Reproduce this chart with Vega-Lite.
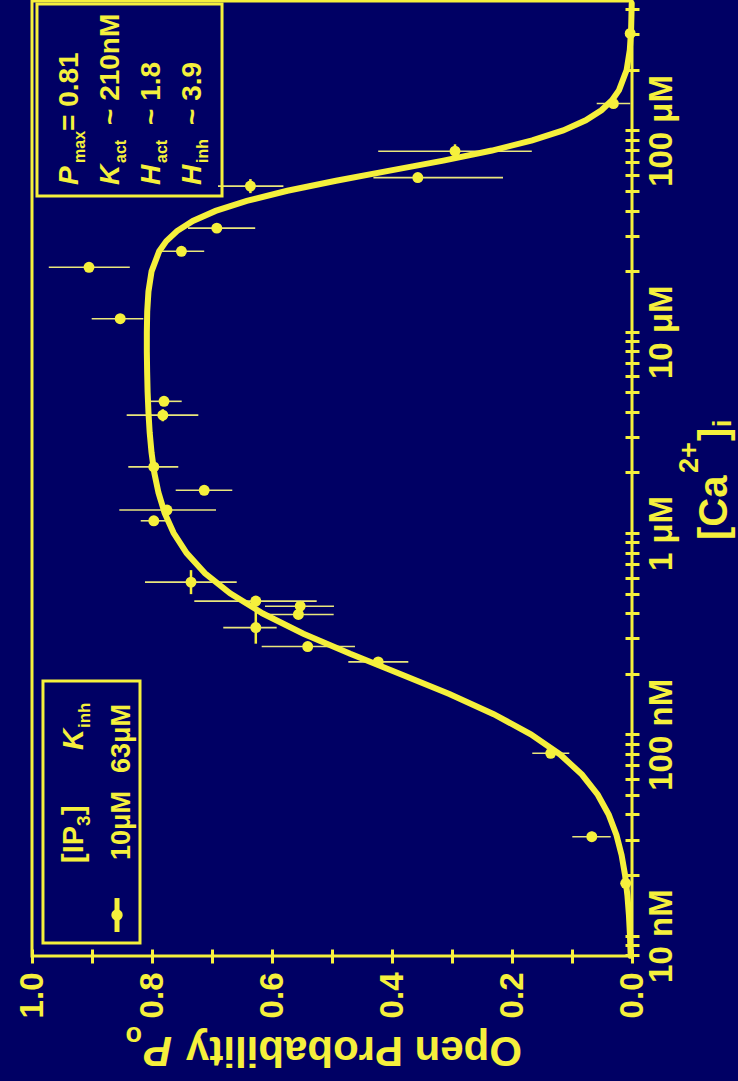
{
  "$schema": "https://vega.github.io/schema/vega-lite/v6.json",
  "width": 600,
  "height": 955,
  "autosize": {"type": "none"},
  "padding": {"left": 32, "top": 1, "right": 106, "bottom": 125},
  "background": "#000064",
  "config": {
    "view": {"stroke": "#f5f03c", "strokeWidth": 3},
    "text": {"font": "Liberation Sans", "fontWeight": "bold", "color": "#f5f03c"}
  },
  "datasets": {
    "points": [
      {"conc": 78.8, "po": 0.295, "poLo": 0.167, "poHi": 0.423, "cLo": 72.8, "cHi": 85.3},
      {"conc": 58.3, "po": 0.357, "poLo": 0.215, "poHi": 0.431},
      {"conc": 52.9, "po": 0.636, "poLo": 0.581, "poHi": 0.690, "cLo": 48.8, "cHi": 57.3},
      {"conc": 32.7, "po": 0.692, "poLo": 0.628, "poHi": 0.740},
      {"conc": 25.1, "po": 0.751, "poLo": 0.713, "poHi": 0.784},
      {"conc": 20.9, "po": 0.905, "poLo": 0.837, "poHi": 0.972},
      {"conc": 11.6, "po": 0.853, "poLo": 0.8145, "poHi": 0.9005},
      {"conc": 4.51, "po": 0.780, "poLo": 0.7505, "poHi": 0.8033},
      {"conc": 3.85, "po": 0.782, "poLo": 0.7228, "poHi": 0.8422, "cLo": 3.59, "cHi": 4.12},
      {"conc": 2.13, "po": 0.797, "poLo": 0.7562, "poHi": 0.8395},
      {"conc": 1.63, "po": 0.713, "poLo": 0.6662, "poHi": 0.7605},
      {"conc": 1.30, "po": 0.775, "poLo": 0.6933, "poHi": 0.8545},
      {"conc": 1.15, "po": 0.797, "poLo": 0.775, "poHi": 0.8188},
      {"conc": 0.570, "po": 0.735, "poLo": 0.6588, "poHi": 0.8117, "cLo": 0.497, "cHi": 0.654},
      {"conc": 0.459, "po": 0.627, "poLo": 0.5255, "poHi": 0.7295},
      {"conc": 0.433, "po": 0.553, "poLo": 0.4967, "poHi": 0.6117},
      {"conc": 0.394, "po": 0.556, "poLo": 0.4972, "poHi": 0.6195},
      {"conc": 0.339, "po": 0.627, "poLo": 0.5922, "poHi": 0.6812, "cLo": 0.282, "cHi": 0.408},
      {"conc": 0.273, "po": 0.5405, "poLo": 0.4617, "poHi": 0.6172},
      {"conc": 0.229, "po": 0.423, "poLo": 0.3728, "poHi": 0.4728},
      {"conc": 0.0805, "po": 0.1355, "poLo": 0.1045, "poHi": 0.1662},
      {"conc": 0.031, "po": 0.067, "poLo": 0.0355, "poHi": 0.0995, "cLo": 0.0293, "cHi": 0.0328},
      {"conc": 0.0182, "po": 0.0105, "poLo": 0.004, "poHi": 0.017},
      {"conc": 303, "po": 0.003, "poLo": 0.0, "poHi": 0.006, "cLo": 280, "cHi": 328},
      {"conc": 136, "po": 0.031, "poLo": 0.003, "poHi": 0.0588}
    ],
    "curve": [
      {"conc": 0.00794, "po": 0.00222}, {"conc": 0.01, "po": 0.00336}, {"conc": 0.01259, "po": 0.00508},
      {"conc": 0.01585, "po": 0.00766}, {"conc": 0.01995, "po": 0.01153}, {"conc": 0.02512, "po": 0.01733},
      {"conc": 0.03162, "po": 0.02594}, {"conc": 0.03981, "po": 0.03863}, {"conc": 0.05012, "po": 0.05708},
      {"conc": 0.0631, "po": 0.08338}, {"conc": 0.07943, "po": 0.11984}, {"conc": 0.1, "po": 0.16857},
      {"conc": 0.1259, "po": 0.23051}, {"conc": 0.1585, "po": 0.3044}, {"conc": 0.1995, "po": 0.3862},
      {"conc": 0.2512, "po": 0.4696}, {"conc": 0.3162, "po": 0.5477}, {"conc": 0.3981, "po": 0.6153},
      {"conc": 0.5012, "po": 0.6699}, {"conc": 0.631, "po": 0.7117}, {"conc": 0.7943, "po": 0.7423},
      {"conc": 1, "po": 0.7639}, {"conc": 1.259, "po": 0.779}, {"conc": 1.585, "po": 0.7892},
      {"conc": 1.995, "po": 0.7962}, {"conc": 2.512, "po": 0.8008}, {"conc": 3.162, "po": 0.8039},
      {"conc": 3.981, "po": 0.8059}, {"conc": 5.012, "po": 0.8073}, {"conc": 6.31, "po": 0.8081},
      {"conc": 7.943, "po": 0.8086}, {"conc": 10, "po": 0.8086}, {"conc": 12.59, "po": 0.808},
      {"conc": 15.85, "po": 0.8059}, {"conc": 19.95, "po": 0.8007}, {"conc": 25.12, "po": 0.788},
      {"conc": 28.18, "po": 0.7762}, {"conc": 31.62, "po": 0.7583}, {"conc": 35.48, "po": 0.7319},
      {"conc": 39.81, "po": 0.694}, {"conc": 44.67, "po": 0.642}, {"conc": 50.12, "po": 0.5744},
      {"conc": 56.23, "po": 0.4932}, {"conc": 63.1, "po": 0.4037}, {"conc": 70.79, "po": 0.3144},
      {"conc": 79.43, "po": 0.2334}, {"conc": 89.13, "po": 0.1663}, {"conc": 100, "po": 0.1147},
      {"conc": 112.2, "po": 0.0771}, {"conc": 125.9, "po": 0.051}, {"conc": 141.3, "po": 0.0333},
      {"conc": 158.5, "po": 0.0216}, {"conc": 199.5, "po": 0.00893}, {"conc": 251.2, "po": 0.00366},
      {"conc": 316.2, "po": 0.0015}, {"conc": 426.6, "po": 0.00047}
    ]
  },
  "layer": [
    {
      "data": {"name": "points"},
      "mark": {"type": "rule", "color": "#e9e67c", "strokeWidth": 1.6},
      "encoding": {
        "x": {
          "field": "poLo", "type": "quantitative",
          "scale": {"domain": [0, 1], "reverse": true, "nice": false, "zero": false},
          "axis": {
            "orient": "bottom", "title": null,
            "values": [0, 0.1, 0.2, 0.3, 0.4, 0.5, 0.6, 0.7, 0.8, 0.9, 1],
            "labelExpr": "round(datum.value*10)%2==0 ? format(datum.value,'.1f') : ''",
            "offset": -7, "tickSize": 14, "tickWidth": 3, "tickColor": "#f5f03c",
            "domain": false, "grid": false,
            "labelAngle": 270, "labelAlign": "right", "labelBaseline": "middle", "labelPadding": 9,
            "labelFont": "Liberation Sans", "labelFontSize": 33, "labelFontWeight": "bold", "labelColor": "#f5f03c",
            "labelFlush": false, "labelOverlap": false, "labelBound": false
          }
        },
        "x2": {"field": "poHi"},
        "y": {
          "field": "conc", "type": "quantitative",
          "scale": {"type": "log", "domain": [0.00792, 439.4], "nice": false},
          "axis": {
            "orient": "right", "title": null,
            "values": [0.008, 0.009, 0.01, 0.02, 0.03, 0.04, 0.05, 0.06, 0.07, 0.08, 0.09, 0.1, 0.2, 0.3, 0.4, 0.5, 0.6, 0.7, 0.8, 0.9, 1, 2, 3, 4, 5, 6, 7, 8, 9, 10, 20, 30, 40, 50, 60, 70, 80, 90, 100, 200, 300, 400],
            "labelExpr": "datum.value==0.01 ? '10 nM' : datum.value==0.1 ? '100 nM' : datum.value==1 ? '1 μM' : datum.value==10 ? '10 μM' : datum.value==100 ? '100 μM' : ''",
            "offset": -7, "tickSize": 14, "tickWidth": 3, "tickColor": "#f5f03c",
            "domain": false, "grid": false,
            "labelAngle": 270, "labelAlign": "center", "labelBaseline": "top", "labelPadding": 6,
            "labelFont": "Liberation Sans", "labelFontSize": 33, "labelFontWeight": "bold", "labelColor": "#f5f03c",
            "labelFlush": false, "labelOverlap": false, "labelBound": false
          }
        }
      }
    },
    {
      "data": {"name": "points"},
      "transform": [{"filter": "isValid(datum.cLo)"}],
      "mark": {"type": "rule", "color": "#f5f03c", "strokeWidth": 2.5},
      "encoding": {
        "x": {"field": "po", "type": "quantitative"},
        "y": {"field": "cLo", "type": "quantitative"},
        "y2": {"field": "cHi"}
      }
    },
    {
      "data": {"name": "curve"},
      "mark": {"type": "line", "color": "#f5f03c", "strokeWidth": 6, "strokeCap": "round"},
      "encoding": {
        "x": {"field": "po", "type": "quantitative"},
        "y": {"field": "conc", "type": "quantitative"},
        "order": {"field": "conc", "type": "quantitative"}
      }
    },
    {
      "data": {"name": "points"},
      "mark": {"type": "point", "shape": "circle", "filled": true, "opacity": 1, "color": "#f5f03c", "size": 120},
      "encoding": {
        "x": {"field": "po", "type": "quantitative"},
        "y": {"field": "conc", "type": "quantitative"}
      }
    },
    {
      "data": {"values": [{}]},
      "mark": {"type": "rect", "fill": "transparent", "stroke": "#f5f03c", "strokeWidth": 3},
      "encoding": {
        "x": {"datum": 0.9917, "type": "quantitative"}, "x2": {"datum": 0.6833},
        "y": {"datum": 424.6, "type": "quantitative"}, "y2": {"datum": 47.22}
      }
    },
    {
      "data": {"values": [{}]},
      "mark": {"type": "rect", "fill": "transparent", "stroke": "#f5f03c", "strokeWidth": 3},
      "encoding": {
        "x": {"datum": 0.9817, "type": "quantitative"}, "x2": {"datum": 0.82},
        "y": {"datum": 0.18397, "type": "quantitative"}, "y2": {"datum": 0.00919}
      }
    },
    {
      "data": {"values": [{}]},
      "mark": {"type": "rule", "color": "#f5f03c", "strokeWidth": 5},
      "encoding": {
        "x": {"datum": 0.8583, "type": "quantitative"},
        "y": {"datum": 0.01537, "type": "quantitative"}, "y2": {"datum": 0.01042}
      }
    },
    {
      "data": {"values": [{}]},
      "mark": {"type": "point", "shape": "circle", "filled": true, "opacity": 1, "color": "#f5f03c", "size": 130},
      "encoding": {
        "x": {"datum": 0.8583, "type": "quantitative"},
        "y": {"datum": 0.01266, "type": "quantitative"}
      }
    },
    {"data": {"values": [{}]}, "mark": {"type": "text", "text": "P", "fontStyle": "italic", "fontSize": 28, "angle": 270, "align": "left", "baseline": "alphabetic"},
     "encoding": {"x": {"datum": 0.9233, "type": "quantitative"}, "y": {"datum": 53.56, "type": "quantitative"}}},
    {"data": {"values": [{}]}, "mark": {"type": "text", "text": "max", "fontSize": 16, "angle": 270, "align": "left", "baseline": "alphabetic", "dx": 22, "dy": 7},
     "encoding": {"x": {"datum": 0.9233, "type": "quantitative"}, "y": {"datum": 53.56, "type": "quantitative"}}},
    {"data": {"values": [{}]}, "mark": {"type": "text", "text": "= 0.81", "fontSize": 28, "angle": 270, "align": "left", "baseline": "alphabetic", "dx": 54},
     "encoding": {"x": {"datum": 0.9233, "type": "quantitative"}, "y": {"datum": 53.56, "type": "quantitative"}}},
    {"data": {"values": [{}]}, "mark": {"type": "text", "text": "K", "fontStyle": "italic", "fontSize": 28, "angle": 270, "align": "left", "baseline": "alphabetic"},
     "encoding": {"x": {"datum": 0.855, "type": "quantitative"}, "y": {"datum": 53.56, "type": "quantitative"}}},
    {"data": {"values": [{}]}, "mark": {"type": "text", "text": "act", "fontSize": 16, "angle": 270, "align": "left", "baseline": "alphabetic", "dx": 22, "dy": 7},
     "encoding": {"x": {"datum": 0.855, "type": "quantitative"}, "y": {"datum": 53.56, "type": "quantitative"}}},
    {"data": {"values": [{}]}, "mark": {"type": "text", "text": "~ 210nM", "fontSize": 28, "angle": 270, "align": "left", "baseline": "alphabetic", "dx": 60},
     "encoding": {"x": {"datum": 0.855, "type": "quantitative"}, "y": {"datum": 53.56, "type": "quantitative"}}},
    {"data": {"values": [{}]}, "mark": {"type": "text", "text": "H", "fontStyle": "italic", "fontSize": 28, "angle": 270, "align": "left", "baseline": "alphabetic"},
     "encoding": {"x": {"datum": 0.7867, "type": "quantitative"}, "y": {"datum": 53.56, "type": "quantitative"}}},
    {"data": {"values": [{}]}, "mark": {"type": "text", "text": "act", "fontSize": 16, "angle": 270, "align": "left", "baseline": "alphabetic", "dx": 22, "dy": 7},
     "encoding": {"x": {"datum": 0.7867, "type": "quantitative"}, "y": {"datum": 53.56, "type": "quantitative"}}},
    {"data": {"values": [{}]}, "mark": {"type": "text", "text": "~ 1.8", "fontSize": 28, "angle": 270, "align": "left", "baseline": "alphabetic", "dx": 60},
     "encoding": {"x": {"datum": 0.7867, "type": "quantitative"}, "y": {"datum": 53.56, "type": "quantitative"}}},
    {"data": {"values": [{}]}, "mark": {"type": "text", "text": "H", "fontStyle": "italic", "fontSize": 28, "angle": 270, "align": "left", "baseline": "alphabetic"},
     "encoding": {"x": {"datum": 0.7183, "type": "quantitative"}, "y": {"datum": 53.56, "type": "quantitative"}}},
    {"data": {"values": [{}]}, "mark": {"type": "text", "text": "inh", "fontSize": 16, "angle": 270, "align": "left", "baseline": "alphabetic", "dx": 22, "dy": 7},
     "encoding": {"x": {"datum": 0.7183, "type": "quantitative"}, "y": {"datum": 53.56, "type": "quantitative"}}},
    {"data": {"values": [{}]}, "mark": {"type": "text", "text": "~ 3.9", "fontSize": 28, "angle": 270, "align": "left", "baseline": "alphabetic", "dx": 60},
     "encoding": {"x": {"datum": 0.7183, "type": "quantitative"}, "y": {"datum": 53.56, "type": "quantitative"}}},
    {"data": {"values": [{}]}, "mark": {"type": "text", "text": "[IP", "fontSize": 29, "angle": 270, "align": "left", "baseline": "alphabetic"},
     "encoding": {"x": {"datum": 0.915, "type": "quantitative"}, "y": {"datum": 0.02294, "type": "quantitative"}}},
    {"data": {"values": [{}]}, "mark": {"type": "text", "text": "3", "fontSize": 19, "angle": 270, "align": "left", "baseline": "alphabetic", "dx": 37, "dy": 7},
     "encoding": {"x": {"datum": 0.915, "type": "quantitative"}, "y": {"datum": 0.02294, "type": "quantitative"}}},
    {"data": {"values": [{}]}, "mark": {"type": "text", "text": "]", "fontSize": 29, "angle": 270, "align": "left", "baseline": "alphabetic", "dx": 48},
     "encoding": {"x": {"datum": 0.915, "type": "quantitative"}, "y": {"datum": 0.02294, "type": "quantitative"}}},
    {"data": {"values": [{}]}, "mark": {"type": "text", "text": "K", "fontStyle": "italic", "fontSize": 29, "angle": 270, "align": "left", "baseline": "alphabetic"},
     "encoding": {"x": {"datum": 0.915, "type": "quantitative"}, "y": {"datum": 0.08357, "type": "quantitative"}}},
    {"data": {"values": [{}]}, "mark": {"type": "text", "text": "inh", "fontSize": 17, "angle": 270, "align": "left", "baseline": "alphabetic", "dx": 22, "dy": 7},
     "encoding": {"x": {"datum": 0.915, "type": "quantitative"}, "y": {"datum": 0.08357, "type": "quantitative"}}},
    {"data": {"values": [{}]}, "mark": {"type": "text", "text": "10μM", "fontSize": 27, "angle": 270, "align": "left", "baseline": "alphabetic"},
     "encoding": {"x": {"datum": 0.8367, "type": "quantitative"}, "y": {"datum": 0.02374, "type": "quantitative"}}},
    {"data": {"values": [{}]}, "mark": {"type": "text", "text": "63μM", "fontSize": 27, "angle": 270, "align": "left", "baseline": "alphabetic"},
     "encoding": {"x": {"datum": 0.8367, "type": "quantitative"}, "y": {"datum": 0.06424, "type": "quantitative"}}},
    {"data": {"values": [{}]}, "mark": {"type": "text", "text": "Open Probability", "fontSize": 42, "angle": 180, "align": "left", "baseline": "alphabetic"},
     "encoding": {"x": {"datum": 0.1833, "type": "quantitative"}, "y": {"datum": 0.003135, "type": "quantitative"}}},
    {"data": {"values": [{}]}, "mark": {"type": "text", "text": "P", "fontStyle": "italic", "fontSize": 42, "angle": 180, "align": "left", "baseline": "alphabetic", "dx": 350},
     "encoding": {"x": {"datum": 0.1833, "type": "quantitative"}, "y": {"datum": 0.003135, "type": "quantitative"}}},
    {"data": {"values": [{}]}, "mark": {"type": "text", "text": "o", "fontSize": 27, "angle": 180, "align": "left", "baseline": "alphabetic", "dx": 380, "dy": 10},
     "encoding": {"x": {"datum": 0.1833, "type": "quantitative"}, "y": {"datum": 0.003135, "type": "quantitative"}}},
    {"data": {"values": [{}]}, "mark": {"type": "text", "text": "[Ca", "fontSize": 40, "angle": 270, "align": "left", "baseline": "alphabetic"},
     "encoding": {"x": {"datum": -0.1583, "type": "quantitative"}, "y": {"datum": 0.9231, "type": "quantitative"}}},
    {"data": {"values": [{}]}, "mark": {"type": "text", "text": "2+", "fontSize": 27, "angle": 270, "align": "left", "baseline": "alphabetic", "dx": 67, "dy": -29},
     "encoding": {"x": {"datum": -0.1583, "type": "quantitative"}, "y": {"datum": 0.9231, "type": "quantitative"}}},
    {"data": {"values": [{}]}, "mark": {"type": "text", "text": "]", "fontSize": 40, "angle": 270, "align": "left", "baseline": "alphabetic", "dx": 99},
     "encoding": {"x": {"datum": -0.1583, "type": "quantitative"}, "y": {"datum": 0.9231, "type": "quantitative"}}},
    {"data": {"values": [{}]}, "mark": {"type": "text", "text": "i", "fontSize": 26, "angle": 270, "align": "left", "baseline": "alphabetic", "dx": 113, "dy": 4},
     "encoding": {"x": {"datum": -0.1583, "type": "quantitative"}, "y": {"datum": 0.9231, "type": "quantitative"}}}
  ]
}
